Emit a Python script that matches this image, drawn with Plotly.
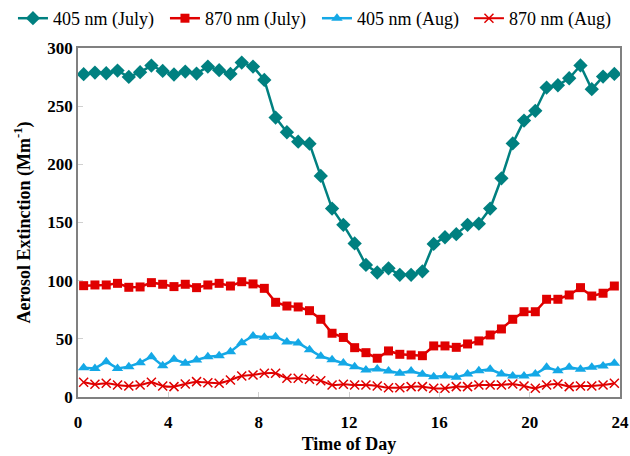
import plotly.graph_objects as go

hours = [0.25 + 0.5 * i for i in range(48)]

ext_405_july = [277.5, 278.9, 278.3, 280.6, 275.1, 279.2, 284.9, 280.3, 277.2, 279.7, 278, 284,
                280.9, 277.7, 287.5, 284, 272.6, 240.2, 227.6, 219.5, 217.8, 190, 162, 148,
                132, 113.5, 107, 110.6, 105, 105, 108, 131.6, 137.3, 140, 148, 149,
                162, 188, 218, 237.6, 246, 266, 268, 274, 285, 264.6, 275.4, 277.7]
ext_870_july = [95.7, 96.3, 96.3, 97.7, 94.3, 94.6, 98.3, 96.9, 94.9, 96.9, 94, 96.3,
                97.7, 95.4, 99.1, 97.2, 93.4, 81.4, 78.2, 77.4, 74.2, 66.8, 54.8, 51.2,
                42.4, 38.1, 33.3, 39.6, 36.7, 36.1, 35.5, 43.9, 43.9, 42.7, 45.6, 48.2,
                53.3, 58.5, 66.8, 73.3, 73.3, 84, 84, 87.7, 94, 86.8, 89.2, 95.4]
ext_405_aug = [25.2, 24.6, 30.4, 24.6, 26.1, 29.5, 34.7, 26.9, 32.4, 29, 31.8, 34.7,
               35.5, 39, 46.7, 52.5, 51.3, 51.8, 47.2, 46.4, 40.7, 35, 32, 29.3,
               26.1, 23.2, 24.1, 22.4, 20.4, 22.4, 19.5, 17.5, 18.1, 16.9, 19.8, 22.6,
               23.8, 19.8, 18.1, 18.1, 19.8, 25.5, 22.6, 25.5, 23.8, 25.5, 26.7, 29]
ext_870_aug = [12.6, 10.9, 11.8, 10.3, 9.5, 10.3, 12.6, 9.5, 8.9, 11.2, 13.2, 12.3,
               11.8, 14.6, 18.1, 18.9, 20.4, 20.4, 16.1, 16.1, 15.2, 14, 10.3, 10.9,
               10.3, 10.3, 9.5, 8, 8, 8.9, 8.9, 7.5, 7.5, 8.9, 8.9, 10.3,
               10.3, 10.3, 11.2, 9.5, 7.5, 10.3, 11.2, 8.9, 9.5, 9.5, 10.3, 11.8]

x_ticks = [0, 4, 8, 12, 16, 20, 24]
y_ticks = [0, 50, 100, 150, 200, 250, 300]

SERIF = "Liberation Serif, Times New Roman, serif"

fig = go.Figure()
fig.add_trace(go.Scatter(x=hours, y=ext_405_july, name="405 nm (July)", mode="lines+markers",
                         line=dict(color="#008080", width=2.5),
                         marker=dict(symbol="diamond", size=11, color="#008080")))
fig.add_trace(go.Scatter(x=hours, y=ext_870_july, name="870 nm (July)", mode="lines+markers",
                         line=dict(color="#E00000", width=2.5),
                         marker=dict(symbol="square", size=9, color="#E00000")))
fig.add_trace(go.Scatter(x=hours, y=ext_405_aug, name="405 nm (Aug)", mode="lines+markers",
                         line=dict(color="#14A8E6", width=2.5),
                         marker=dict(symbol="triangle-up", size=10, color="#14A8E6")))
fig.add_trace(go.Scatter(x=hours, y=ext_870_aug, name="870 nm (Aug)", mode="lines+markers",
                         line=dict(color="#E00000", width=2, shape="spline", smoothing=0.6),
                         marker=dict(symbol="x-thin", size=9, color="#E00000",
                                     line=dict(color="#E00000", width=1.5))))

fig.update_layout(
    width=630, height=456,
    margin=dict(l=78, r=10, t=48, b=59, autoexpand=False),
    paper_bgcolor="white", plot_bgcolor="white",
    font=dict(family=SERIF, color="black", size=16),
    showlegend=True,
    legend=dict(orientation="h", xref="paper", yref="paper",
                x=-0.12, y=1.1375, xanchor="left", yanchor="top",
                font=dict(family=SERIF, size=18, color="black"),
                itemwidth=30, entrywidth=107, entrywidthmode="pixels",
                tracegroupgap=0, bgcolor="rgba(0,0,0,0)"),
    xaxis=dict(range=[0, 24], tickvals=x_ticks, ticktext=[str(v) for v in x_ticks],
               showgrid=False, zeroline=False, showline=True, mirror=True,
               linecolor="#808080", linewidth=1.5,
               ticks="inside", ticklen=5, tickcolor="#d0d0d0",
               ticklabelstandoff=9,
               tickfont=dict(family=SERIF, size=17, color="black", weight="bold"),
               title=dict(text="<b>Time of Day</b>", font=dict(family=SERIF, size=18), standoff=6)),
    yaxis=dict(range=[0, 300], tickvals=y_ticks, ticktext=[str(v) for v in y_ticks],
               showgrid=False, zeroline=False, showline=True, mirror=True,
               linecolor="#808080", linewidth=1.5,
               ticks="inside", ticklen=5, tickcolor="#d0d0d0",
               tickfont=dict(family=SERIF, size=17, color="black", weight="bold"),
               title=dict(text="<b>Aerosol Extinction (Mm<sup>-1</sup>)</b>",
                          font=dict(family=SERIF, size=18), standoff=12)),
)

fig.write_html("out.html", config={"displayModeBar": False},
               post_script="document.body.style.margin='0';document.body.style.overflow='hidden';")
